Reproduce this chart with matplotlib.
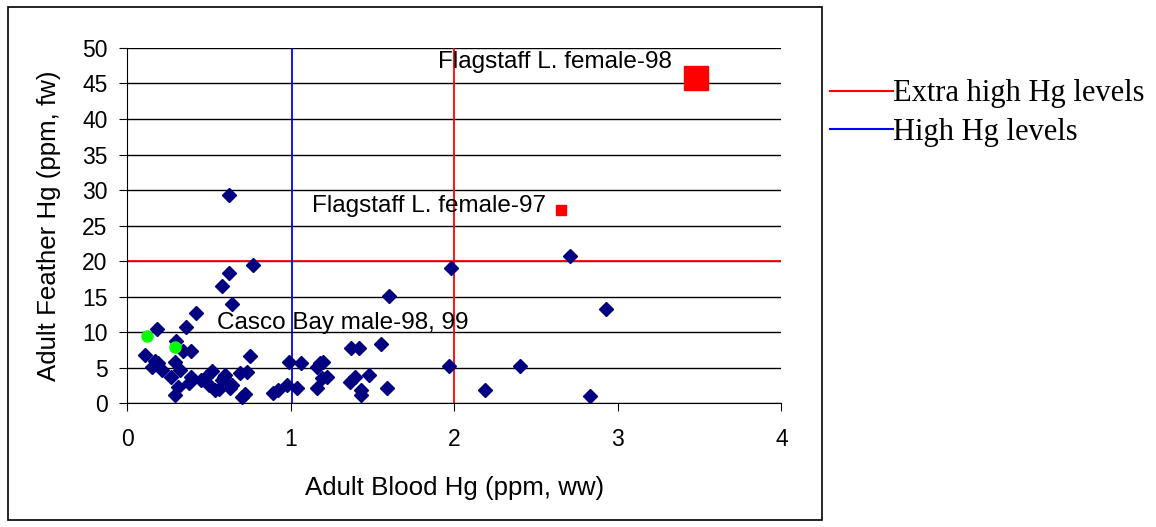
import matplotlib.pyplot as plt
from matplotlib.patches import Rectangle
from matplotlib.lines import Line2D

plt.rcParams['font.family'] = ['Liberation Sans', 'DejaVu Sans']

# adult loons: blood Hg (ppm ww) vs feather Hg (ppm fw)
blood = [0.62, 2.71, 1.98, 0.77, 0.62, 0.58, 0.64, 1.60, 2.93, 0.42,
         0.36, 0.18, 0.30, 0.34, 0.39, 0.75, 0.11, 0.15, 0.19, 0.21,
         0.17, 0.29, 0.27, 0.32, 0.31, 0.29, 0.39, 0.38, 0.48, 0.50,
         0.54, 0.58, 0.60, 0.64, 0.59, 0.63, 0.69, 0.73, 0.70, 0.72,
         0.89, 0.92, 0.98, 1.04, 0.99, 1.06, 1.16, 1.18, 1.20, 1.22,
         1.19, 1.16, 1.37, 1.42, 1.55, 1.36, 1.39, 1.48, 1.43, 1.43,
         1.59, 1.97, 2.19, 2.40, 2.83, 0.52, 0.45, 0.56]
feather = [29.3, 20.7, 19.0, 19.4, 18.3, 16.5, 14.0, 15.1, 13.2, 12.7,
           10.7, 10.4, 8.8, 7.3, 7.3, 6.7, 6.8, 5.1, 5.6, 4.7,
           6.0, 5.8, 3.7, 4.6, 2.3, 1.2, 3.7, 2.8, 3.7, 2.5,
           1.8, 3.2, 3.9, 2.5, 3.7, 2.1, 4.2, 4.4, 0.9, 1.3,
           1.4, 1.8, 2.5, 2.2, 5.8, 5.6, 5.1, 5.6, 5.8, 3.7,
           3.5, 2.2, 7.8, 7.8, 8.3, 3.0, 3.7, 3.9, 1.8, 1.1,
           2.2, 5.3, 1.9, 5.3, 1.0, 4.5, 3.3, 2.0]

casco_blood = [0.12, 0.29]
casco_feather = [9.4, 7.9]

flag97 = (2.65, 27.2)
flag98 = (3.48, 45.8)

extra_high = 2.0   # blood threshold, ppm ww
extra_high_fw = 20  # feather threshold, ppm fw
high = 1.01

fig = plt.figure(figsize=(11.56, 5.27), dpi=100)
ax = fig.add_axes([0.110, 0.235, 0.566, 0.674])

ax.set_xlim(0, 4)
ax.set_ylim(0, 50)
ax.set_xticks([0, 1, 2, 3, 4])
ax.set_yticks(range(0, 51, 5))
ax.yaxis.grid(True, color='black', linewidth=1)
ax.set_axisbelow(True)
for s in ['top', 'right']:
    ax.spines[s].set_visible(False)
ax.tick_params(labelsize=16.5, length=6, direction='out')
ax.tick_params(axis='x', pad=12)
ax.tick_params(axis='y', pad=8)

ax.axhline(extra_high_fw, color='red', lw=1.3)
ax.axvline(extra_high, color='red', lw=1.3)
ax.axvline(high, color='blue', lw=1.3)

ax.plot(blood, feather, 'D', color='#000080', ms=7.5, ls='none', clip_on=False)
ax.plot(casco_blood, casco_feather, 'o', color='#00ff00', ms=8, ls='none')
ax.plot(*flag97, 's', color='red', ms=7)
ax.plot(*flag98, 's', color='red', ms=17)

ax.text(0.55, 11.3, 'Casco Bay male-98, 99', fontsize=17.5, va='center')
ax.text(1.13, 27.7, 'Flagstaff L. female-97', fontsize=17.5, va='center')
ax.text(1.90, 48.0, 'Flagstaff L. female-98', fontsize=17.5, va='center')

ax.set_xlabel('Adult Blood Hg (ppm, ww)', fontsize=18.6, labelpad=18)
ax.set_ylabel('Adult Feather Hg (ppm, fw)', fontsize=18.6, labelpad=15)

fig.patches.append(Rectangle((8 / 1156, 7 / 527), 814 / 1156, 513 / 527,
                             transform=fig.transFigure, fill=False,
                             edgecolor='black', lw=1.2))

handles = [Line2D([], [], color='red', lw=1.5), Line2D([], [], color='blue', lw=1.5)]
fig.legend(handles, ['Extra high Hg levels', 'High Hg levels'],
           loc='upper left', bbox_to_anchor=(818 / 1156, 1 - 67 / 527),
           frameon=False, handlelength=2.05, handletextpad=0,
           labelspacing=0.32, borderaxespad=0,
           prop={'family': 'Liberation Serif', 'size': 22})

fig.savefig('out.png', dpi=100)
